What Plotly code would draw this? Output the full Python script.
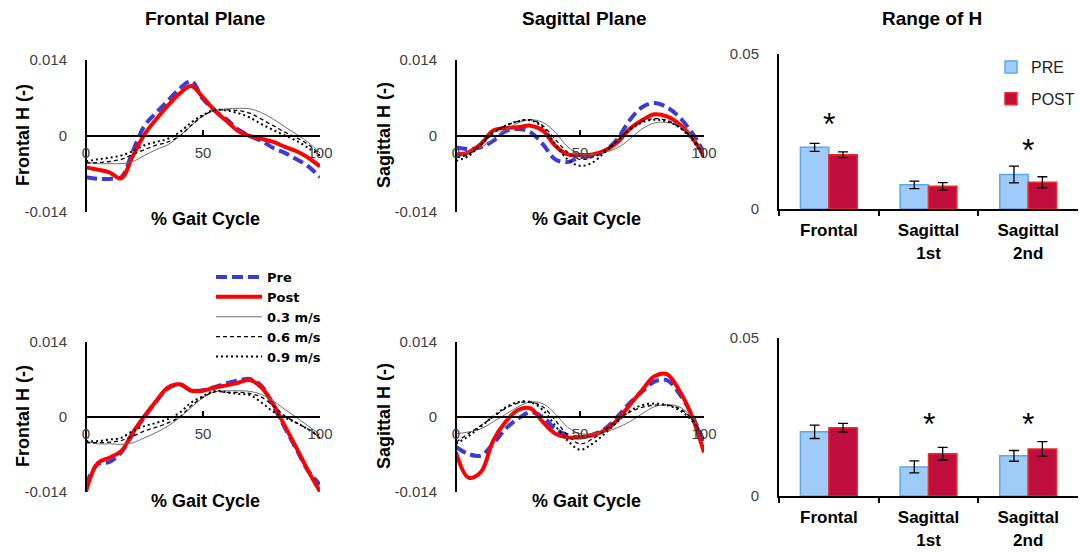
import plotly.graph_objects as go

# ---------------- data ----------------
GAIT = [0, 5, 10, 15, 20, 25, 30, 35, 40, 45, 50, 55, 60, 65, 70, 75, 80, 85, 90, 95, 100]
K = 1e-3  # values below are read in units of 0.001

# Top-left: Frontal plane (group 1)
F1_PRE = [-7.6, -7.9, -7.9, -7.6, -2.8, 1.9, 4.3, 6.5, 8.7, 10.1, 6.8, 4.7, 3.1, 1.2, 0.0, -0.9, -2.2, -3.1, -4.3, -5.6, -7.6]
F1_POST = [-5.8, -6.2, -6.7, -7.8, -3.7, 0.3, 3.1, 5.6, 7.8, 9.2, 7.1, 4.7, 2.8, 0.9, 0.0, -0.5, -1.1, -2.0, -2.8, -4.0, -5.6]
F1_V03 = [-4.8, -5.1, -5.1, -5.1, -4.7, -3.6, -2.5, -1.6, 0.0, 1.9, 3.7, 4.7, 5.0, 5.1, 5.0, 4.3, 3.1, 1.7, 0.3, -1.2, -3.1]
F1_V06 = [-5.0, -4.9, -4.7, -4.3, -3.4, -2.5, -1.7, -1.1, 0.0, 2.0, 3.7, 4.7, 4.8, 4.7, 4.2, 3.1, 1.9, 0.7, -0.3, -1.6, -3.4]
F1_V09 = [-4.7, -4.3, -4.0, -3.6, -2.8, -1.7, -1.1, -0.5, 0.7, 2.5, 3.9, 4.8, 4.7, 4.2, 3.4, 2.2, 1.1, 0.1, -0.9, -2.2, -3.6]

# Top-middle: Sagittal plane (group 1)
S1_PRE = [-2.1, -2.4, -2.1, -0.9, 0.9, 1.3, 0.7, -1.5, -4.3, -4.8, -3.9, -3.7, -2.7, -0.6, 2.9, 5.3, 6.1, 5.3, 3.5, 0.7, -3.0]
S1_POST = [-3.4, -3.0, -1.5, 1.0, 1.5, 1.6, 1.9, 1.0, -1.8, -3.4, -3.5, -3.4, -2.7, -1.2, 1.3, 2.9, 4.0, 3.6, 2.2, -0.2, -3.7]
S1_V03 = [-3.4, -3.0, -2.1, -0.6, 1.1, 2.4, 3.0, 2.5, 0.7, -2.0, -3.4, -3.4, -3.0, -2.2, -0.6, 1.3, 2.4, 2.5, 1.9, 0.1, -3.0]
S1_V06 = [-4.0, -3.4, -1.5, 0.7, 1.9, 2.7, 3.0, 1.9, -0.6, -3.0, -4.3, -3.9, -2.7, -0.9, 1.3, 2.7, 3.2, 2.9, 1.6, -0.2, -3.4]
S1_V09 = [-4.6, -3.7, -1.6, 0.5, 1.9, 2.7, 2.9, 1.6, -1.5, -4.3, -5.5, -4.9, -3.0, -0.9, 1.1, 2.5, 3.0, 2.7, 1.6, -0.6, -4.0]

# Bottom-left: Frontal plane (group 2)
F2_PRE = [-12.6, -8.8, -8.4, -6.6, -3.2, 0.0, 2.9, 5.3, 6.1, 5.0, 5.0, 5.6, 6.3, 6.8, 7.1, 5.8, 2.1, -2.0, -6.1, -10.1, -12.6]
F2_POST = [-13.9, -8.6, -7.6, -6.4, -2.9, 0.2, 3.0, 5.5, 6.1, 4.9, 4.9, 5.5, 5.9, 6.4, 6.9, 5.5, 2.4, -1.7, -5.8, -10.1, -13.9]
F2_V03 = [-4.5, -5.0, -5.0, -5.1, -4.8, -3.9, -2.9, -1.7, -0.1, 1.8, 3.6, 4.7, 4.9, 4.9, 4.8, 4.2, 3.0, 1.4, -0.1, -1.7, -3.2]
F2_V06 = [-4.8, -4.8, -4.7, -4.4, -3.6, -2.6, -1.9, -1.1, 0.0, 2.1, 3.7, 4.7, 4.6, 4.6, 4.4, 3.7, 2.1, 0.2, -1.1, -2.3, -3.9]
F2_V09 = [-4.5, -4.5, -4.2, -3.9, -2.6, -1.7, -1.1, -0.4, 0.8, 2.7, 3.9, 4.9, 4.6, 4.3, 4.1, 2.7, 1.0, -0.1, -1.1, -2.3, -3.6]

# Bottom-middle: Sagittal plane (group 2)
S2_PRE = [-5.6, -6.9, -7.2, -5.0, -2.2, -0.3, 0.9, 0.0, -2.2, -3.4, -3.8, -3.3, -2.2, 0.0, 2.6, 4.7, 6.6, 6.9, 4.4, 0.5, -5.0]
S2_POST = [-6.6, -11.3, -10.3, -4.4, -0.9, 1.3, 1.6, -0.9, -3.1, -3.8, -3.8, -3.4, -2.5, -0.6, 2.2, 5.0, 7.6, 8.0, 5.0, 0.3, -6.6]
S2_V03 = [-3.1, -2.8, -2.2, -0.9, 0.5, 1.9, 2.8, 2.5, 0.6, -1.9, -3.1, -3.1, -2.8, -2.0, -0.9, 0.6, 1.9, 2.3, 1.9, 0.0, -3.8]
S2_V06 = [-4.7, -3.1, -1.6, 0.0, 1.6, 2.6, 2.8, 1.9, -0.6, -3.4, -5.0, -4.1, -2.5, -0.6, 0.9, 1.8, 2.2, 2.2, 1.6, -0.3, -3.8]
S2_V09 = [-5.0, -3.6, -1.8, 0.1, 1.8, 2.8, 2.8, 1.3, -1.6, -4.4, -6.1, -5.0, -3.1, -0.9, 1.1, 2.2, 2.5, 2.2, 1.3, -0.6, -4.1]

SERIES_NAMES = ["Pre", "Post", "0.3 m/s", "0.6 m/s", "0.9 m/s"]

# Range of H bar charts
CATS = ["Frontal", "Sagittal<br>1st", "Sagittal<br>2nd"]
TOP_PRE = [0.0199, 0.0078, 0.0111]
TOP_PRE_ERR = [0.0013, 0.0012, 0.0027]
TOP_POST = [0.0175, 0.0073, 0.0086]
TOP_POST_ERR = [0.0009, 0.0012, 0.0018]
BOT_PRE = [0.0203, 0.0092, 0.0127]
BOT_PRE_ERR = [0.0021, 0.0019, 0.0017]
BOT_POST = [0.0216, 0.0134, 0.0149]
BOT_POST_ERR = [0.0014, 0.0020, 0.0023]

LINE_TICKS = [-0.014, 0, 0.014]
LINE_TICKTEXT = ["-0.014", "0", "0.014"]
GAIT_TICKS = [0, 50, 100]
BAR_TICKS = [0, 0.05]
BAR_TICKTEXT = ["0", "0.05"]

# ---------------- figure ----------------
FONT = "Liberation Sans, Arial, sans-serif"
W, H = 1080, 552

STYLES = [
    dict(color="#3B3BD6", width=4, dash="11px,5px"),
    dict(color="#FF0000", width=4, dash="solid"),
    dict(color="#6E6E6E", width=1, dash="solid"),
    dict(color="#000000", width=1.3, dash="4px,3px"),
    dict(color="#000000", width=2, dash="2px,3px"),
]

fig = go.Figure()


def add_lines(curves, ax, show):
    for name, vals, st in zip(SERIES_NAMES, curves, STYLES):
        fig.add_trace(go.Scatter(
            x=GAIT, y=[v * K for v in vals], mode="lines", name=name,
            line=dict(color=st["color"], width=st["width"], dash=st["dash"],
                      shape="spline", smoothing=1.0),
            xaxis="x" + ax, yaxis="y" + ax, showlegend=show, legend="legend",
            hoverinfo="skip"))


add_lines([F1_PRE, F1_POST, F1_V03, F1_V06, F1_V09], "", True)
add_lines([S1_PRE, S1_POST, S1_V03, S1_V06, S1_V09], "2", False)
add_lines([F2_PRE, F2_POST, F2_V03, F2_V06, F2_V09], "4", False)
add_lines([S2_PRE, S2_POST, S2_V03, S2_V06, S2_V09], "5", False)

PRE_FILL, PRE_LINE = "#9ECBF8", "#5AA8F0"
POST_FILL, POST_LINE = "#BF0D3E", "#EE2A2A"


def add_bars(pre, pre_err, post, post_err, ax, show):
    fig.add_trace(go.Bar(
        x=CATS, y=pre, name="PRE", marker=dict(color=PRE_FILL, line=dict(color=PRE_LINE, width=1.5)),
        error_y=dict(type="data", array=pre_err, color="black", thickness=1.3, width=5),
        xaxis="x" + ax, yaxis="y" + ax, showlegend=show, legend="legend2", legendgroup="pre"))
    fig.add_trace(go.Bar(
        x=CATS, y=post, name="POST", marker=dict(color=POST_FILL, line=dict(color=POST_LINE, width=1.5)),
        error_y=dict(type="data", array=post_err, color="black", thickness=1.3, width=5),
        xaxis="x" + ax, yaxis="y" + ax, showlegend=show, legend="legend2", legendgroup="post"))


add_bars(TOP_PRE, TOP_PRE_ERR, TOP_POST, TOP_POST_ERR, "3", True)
add_bars(BOT_PRE, BOT_PRE_ERR, BOT_POST, BOT_POST_ERR, "6", False)

# panel geometry (paper fractions)
XL = [86 / W, 320 / W]
XM = [456 / W, 704 / W]
XR = [779 / W, 1078 / W]
YT = [1 - 212 / H, 1 - 60 / H]
YB = [1 - 492 / H, 1 - 342 / H]
YTB = [1 - 209 / H, 1 - 54 / H]
YBB = [1 - 496 / H, 1 - 338 / H]

tick_font = dict(family=FONT, size=15, color="#404040")


def line_x(dom, ydom):
    return dict(domain=dom, range=[0, 100], anchor="free", position=(ydom[0] + ydom[1]) / 2,
                tickvals=GAIT_TICKS, ticks="inside", ticklen=5, tickwidth=2, tickcolor="black",
                showline=True, linewidth=2, linecolor="black", showgrid=False, zeroline=False,
                tickfont=tick_font, ticklabelstandoff=3, fixedrange=True, automargin=False)


def line_y(dom, xdom):
    return dict(domain=dom, range=[-0.014, 0.014], anchor="free", position=xdom[0],
                tickvals=LINE_TICKS, ticktext=LINE_TICKTEXT, ticks="inside", ticklen=5,
                tickwidth=2, tickcolor="black", showline=True, linewidth=2, linecolor="black",
                showgrid=False, zeroline=False, tickfont=tick_font, ticklabelstandoff=15,
                fixedrange=True, automargin=False)


def bar_x(dom, ya):
    return dict(domain=dom, anchor=ya, type="category", range=[-0.5, 2.5], showline=True,
                linewidth=2, linecolor="black", ticks="outside", tickson="boundaries",
                ticklen=5, tickwidth=1.5, tickcolor="black", showgrid=False,
                tickfont=dict(family=FONT, size=17, color="black", weight="bold"),
                ticklabelstandoff=5, fixedrange=True, automargin=False)


def bar_y(dom, xa):
    return dict(domain=dom, anchor=xa, range=[0, 0.05], tickvals=BAR_TICKS, ticktext=BAR_TICKTEXT,
                ticks="inside", ticklen=5, tickwidth=2, tickcolor="black", showline=True,
                linewidth=2, linecolor="black", showgrid=False, zeroline=False,
                tickfont=tick_font, ticklabelstandoff=15, fixedrange=True, automargin=False)


annots = []


def txt(text, x, y, size, bold=True, angle=0, color="black"):
    annots.append(dict(text=text, x=x, y=y, xref="paper", yref="paper", showarrow=False,
                       xanchor="center", yanchor="middle", textangle=angle,
                       font=dict(family=FONT, size=size, color=color,
                                 weight="bold" if bold else "normal")))


txt("Frontal Plane", 205 / W, 1 - 18 / H, 19)
txt("Sagittal Plane", 584 / W, 1 - 18 / H, 19)
txt("Range of H", 932 / W, 1 - 18 / H, 19)
for cx in (205 / W, 586 / W):
    txt("% Gait Cycle", cx, 1 - 219 / H, 18)
    txt("% Gait Cycle", cx, 1 - 501 / H, 18)
txt("Frontal H (-)", 23 / W, 1 - 135 / H, 18, angle=-90)
txt("Frontal H (-)", 23 / W, 1 - 416 / H, 18, angle=-90)
txt("Sagittal H (-)", 384 / W, 1 - 135 / H, 18, angle=-90)
txt("Sagittal H (-)", 384 / W, 1 - 416 / H, 18, angle=-90)

# significance markers
for xa, ya, cat, yv in [("x3", "y3", CATS[0], 0.0275), ("x3", "y3", CATS[2], 0.0190),
                        ("x6", "y6", CATS[1], 0.0228), ("x6", "y6", CATS[2], 0.0228)]:
    annots.append(dict(text="*", x=cat, y=yv, xref=xa, yref=ya, showarrow=False,
                       xanchor="center", yanchor="middle",
                       font=dict(family=FONT, size=32, color="black")))

fig.update_layout(
    width=W, height=H, margin=dict(l=0, r=0, t=0, b=0, pad=0, autoexpand=False),
    paper_bgcolor="white", plot_bgcolor="rgba(0,0,0,0)",
    font=dict(family=FONT, color="black"),
    barmode="group", bargap=0.43, bargroupgap=0,
    xaxis=line_x(XL, YT), yaxis=line_y(YT, XL),
    xaxis2=line_x(XM, YT), yaxis2=line_y(YT, XM),
    xaxis3=bar_x(XR, "y3"), yaxis3=bar_y(YTB, "x3"),
    xaxis4=line_x(XL, YB), yaxis4=line_y(YB, XL),
    xaxis5=line_x(XM, YB), yaxis5=line_y(YB, XM),
    xaxis6=bar_x(XR, "y6"), yaxis6=bar_y(YBB, "x6"),
    legend=dict(x=211 / W, y=1 - 262 / H, xanchor="left", yanchor="top",
                bgcolor="rgba(0,0,0,0)",
                font=dict(family="DejaVu Sans, sans-serif", size=13, color="black", weight="bold"),
                traceorder="normal", itemwidth=46, tracegroupgap=0),
    legend2=dict(x=1.0, y=1 - 50 / H, xanchor="right", yanchor="top",
                 bgcolor="rgba(0,0,0,0)", font=dict(family=FONT, size=16, color="#222222"),
                 traceorder="grouped", tracegroupgap=8, itemwidth=30),
    annotations=annots,
    showlegend=True,
)

fig.write_html("out.html")
